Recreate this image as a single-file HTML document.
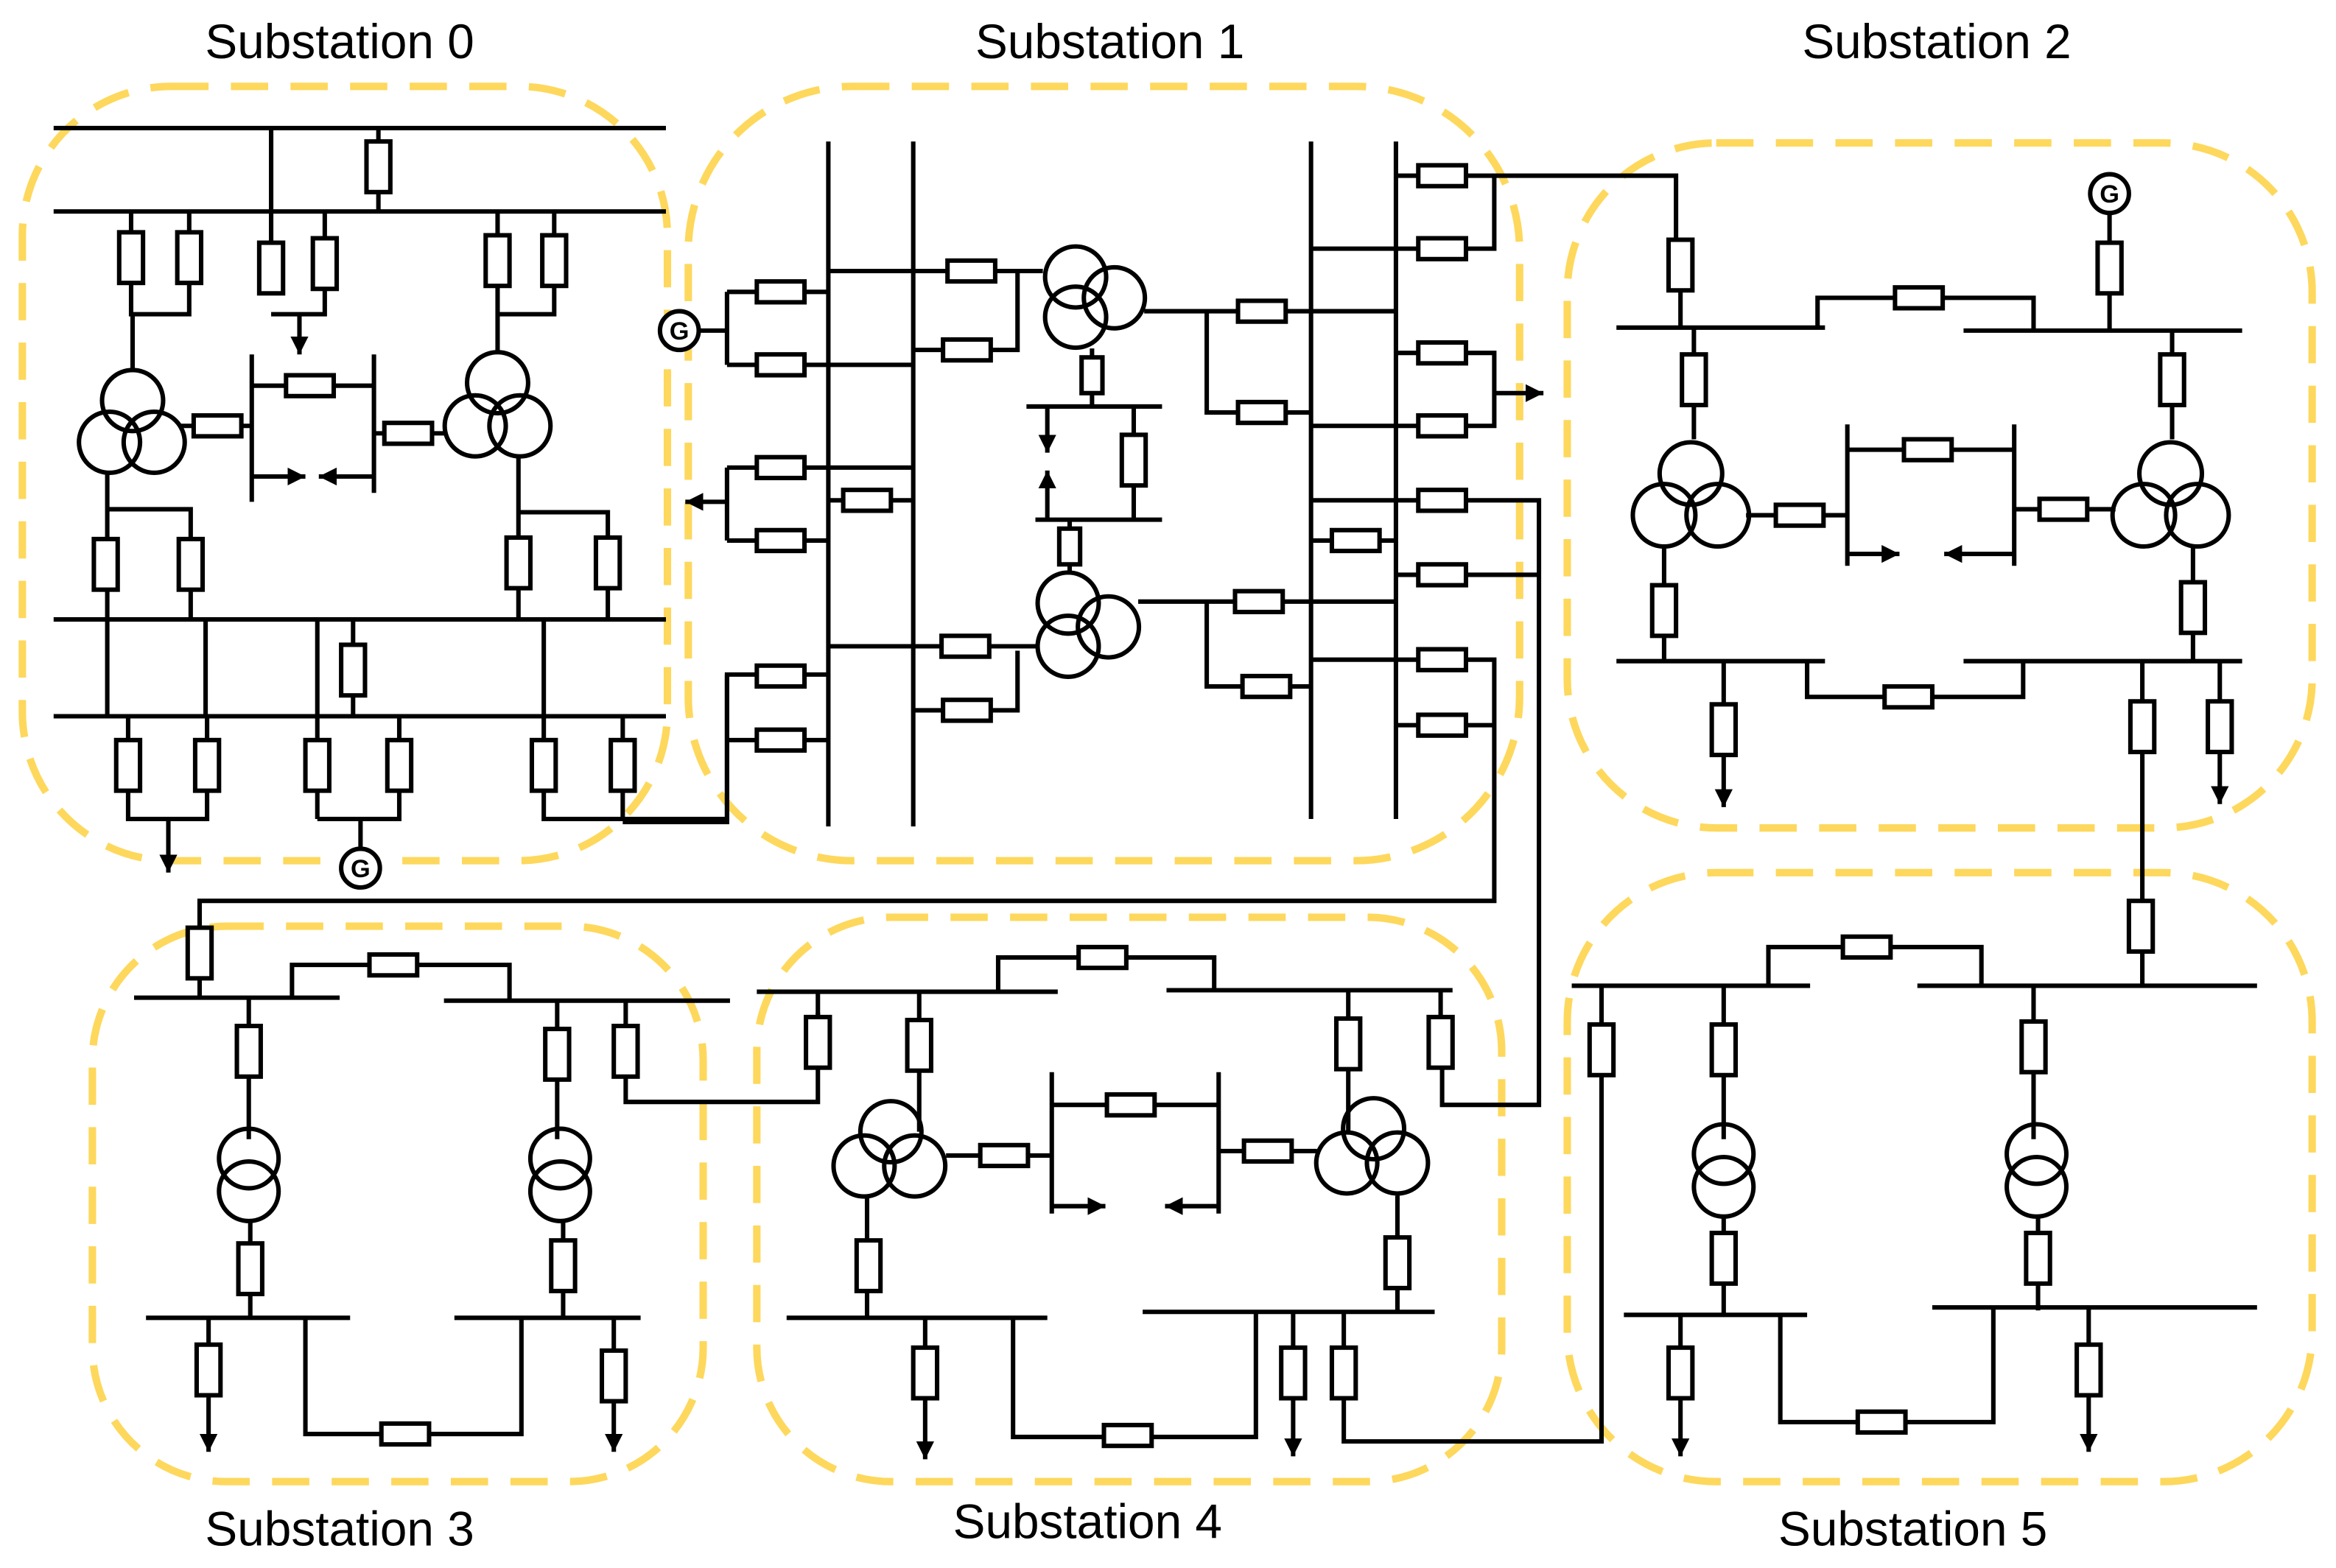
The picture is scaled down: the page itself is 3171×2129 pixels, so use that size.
<!DOCTYPE html>
<html><head><meta charset="utf-8"><style>html,body{margin:0;padding:0;background:#fff}svg{display:block}</style></head><body>
<svg xmlns="http://www.w3.org/2000/svg" xmlns:xlink="http://www.w3.org/1999/xlink" width="3171" height="2129" viewBox="0 0 1568 1053" preserveAspectRatio="none">
<defs>
<rect id="rv" x="-8" y="-17" width="16" height="34" fill="#fff" stroke="#000" stroke-width="3"/>
<rect id="rh" x="-16" y="-7" width="32" height="14" fill="#fff" stroke="#000" stroke-width="3"/>
<rect id="rs" x="-7" y="-12" width="14" height="24" fill="#fff" stroke="#000" stroke-width="3"/>
<marker id="a" viewBox="0 0 10 10" refX="10" refY="5" markerWidth="12" markerHeight="12" markerUnits="userSpaceOnUse" orient="auto"><path d="M0,0L10,5L0,10z" fill="#000"/></marker>
</defs>
<rect width="1568" height="1053" fill="#fff"/>
<g fill="none" stroke="#fdd85d" stroke-width="5" stroke-dasharray="25 15">
<rect x="15" y="58" width="433" height="520" rx="100"/>
<rect x="462" y="58" width="558" height="520" rx="110"/>
<rect x="1052" y="96" width="500" height="460" rx="100"/>
<rect x="62" y="622" width="410" height="373" rx="90"/>
<rect x="508" y="616" width="500" height="379" rx="90"/>
<rect x="1052" y="586" width="500" height="409" rx="100"/>
</g>
<g font-family="Liberation Sans, sans-serif" font-size="32.5" fill="#000" text-anchor="middle">
<text x="228" y="39">Substation 0</text>
<text x="745" y="39">Substation 1</text>
<text x="1300" y="39">Substation 2</text>
<text x="228" y="1038">Substation 3</text>
<text x="730" y="1033">Substation 4</text>
<text x="1284" y="1038">Substation 5</text>
</g>
<g fill="none" stroke="#000" stroke-width="3">
<!-- Substation 0 -->
<path d="M36 86H447M36 142H447M36 416H447M36 481H447"/>
<path d="M182 86V195M254 86V142M88 142V211H127V142M218 142V211H182" />
<path d="M201 211V238" marker-end="url(#a)"/>
<path d="M334 142V211H372V142M334 211V237"/>
<path d="M89 211V248M169 238V337M251 238V331M169 259H251M120 286H169M251 291H300"/>
<path d="M170 320H205" marker-end="url(#a)"/>
<path d="M251 320H214" marker-end="url(#a)"/>
<path d="M72 318V416M72 342H128V416M348 306V416M348 344H408V416"/>
<circle cx="89" cy="269" r="20.5"/><circle cx="73.5" cy="297" r="20.5"/><circle cx="103.5" cy="297" r="20.5"/>
<circle cx="334" cy="257" r="20.5"/><circle cx="319" cy="286" r="20.5"/><circle cx="349" cy="286" r="20.5"/>
<path d="M72 416V481M138 416V481M213 416V550M237 416V481M365 416V481"/>
<path d="M86 481V550H139V481M213 550H268V481M242 550V570M365 481V550H418V481M418 550H488V453H556"/>
<path d="M113 550V586" marker-end="url(#a)"/>
<circle cx="242" cy="583" r="13" fill="#fff"/>
<!-- Substation 1 -->
<path d="M556 95V555M613 95V555M880 95V550M937 95V550"/>
<circle cx="456" cy="222" r="13" fill="#fff"/>
<path d="M469 222H488M488 196V245M488 196H556M488 245H613M556 182H700M613 235H683V182"/>
<circle cx="722" cy="186" r="20.5"/><circle cx="748" cy="200" r="20.5"/><circle cx="722" cy="213" r="20.5"/>
<path d="M768 209H937M810 209V277H880M733 234V273M689 273H780M695 349H780M761 273V349M718 349V385"/>
<path d="M703 273V304" marker-end="url(#a)"/>
<path d="M703 349V316" marker-end="url(#a)"/>
<circle cx="717" cy="405" r="20.5"/><circle cx="744" cy="421" r="20.5"/><circle cx="717" cy="434" r="20.5"/>
<path d="M764 404H937M810 404V461H880M556 434H697M613 477H683V437"/>
<path d="M488 314V363M488 314H613M488 363H556M556 336H613"/>
<path d="M488 337H460" marker-end="url(#a)"/>
<path d="M488 497H556M488 453V552H418"/>
<path d="M880 363H937"/>
<path d="M937 118H1125V160M937 167H1003V118M880 167H937"/>
<path d="M937 237H1003V286H880M1003 264H1036" marker-end="url(#a)"/>
<path d="M880 336H1033V742H968V718M937 386H1033"/>
<path d="M880 443H1003V605H134V622M937 487H1003"/>
<!-- Substation 2 -->
<path d="M1085 220H1225M1318 222H1505M1220 220V200H1365V222M1128 160V220M1416 143V222"/>
<circle cx="1416" cy="130" r="13" fill="#fff"/>
<path d="M1137 220V295M1458 222V295M1240 285V380M1352 285V380M1240 302H1352M1172 346H1240M1352 342H1420"/>
<path d="M1240 372H1275" marker-end="url(#a)"/>
<path d="M1352 372H1305" marker-end="url(#a)"/>
<circle cx="1135" cy="318" r="21"/><circle cx="1117" cy="346" r="21"/><circle cx="1153" cy="346" r="21"/>
<circle cx="1457" cy="318" r="21"/><circle cx="1439" cy="346" r="21"/><circle cx="1475" cy="346" r="21"/>
<path d="M1117 366V444M1472 366V444M1085 444H1225M1318 444H1505M1213 444V468H1358V444"/>
<path d="M1157 444V542" marker-end="url(#a)"/>
<path d="M1490 444V540" marker-end="url(#a)"/>
<path d="M1438 444V662"/>
<!-- Substation 3 -->
<path d="M134 605V670M90 670H228M298 672H490M196 670V648H342V672"/>
<path d="M167 670V765M374 672V765M420 672V740H549V680"/>
<circle cx="167" cy="778" r="20"/><circle cx="167" cy="800" r="20"/>
<circle cx="376" cy="778" r="20"/><circle cx="376" cy="800" r="20"/>
<path d="M168 820V885M378 820V885M98 885H235M305 885H430M205 885V963H350V885"/>
<path d="M140 885V975" marker-end="url(#a)"/>
<path d="M412 885V975" marker-end="url(#a)"/>
<!-- Substation 4 -->
<path d="M508 666H710M783 665H975M670 666V643H815V665M549 666V700M617 666V760M905 665V760M967 665V700"/>
<circle cx="598" cy="760" r="20.5"/><circle cx="580" cy="783" r="20.5"/><circle cx="614" cy="783" r="20.5"/>
<circle cx="922" cy="758" r="20.5"/><circle cx="904" cy="781" r="20.5"/><circle cx="938" cy="781" r="20.5"/>
<path d="M635 776H706M706 720V815M818 720V815M706 742H818M818 773H884"/>
<path d="M706 810H742" marker-end="url(#a)"/>
<path d="M818 810H782" marker-end="url(#a)"/>
<path d="M582 803V885M938 803V882M528 885H703M767 881H963M680 885V965H843V880"/>
<path d="M621 885V980" marker-end="url(#a)"/>
<path d="M868 881V978" marker-end="url(#a)"/>
<path d="M902 881V968H1075V662"/>
<!-- Substation 5 -->
<path d="M1055 662H1215M1287 662H1515M1187 662V636H1330V662M1157 662V765M1365 662V765"/>
<circle cx="1157" cy="775" r="20"/><circle cx="1157" cy="797" r="20"/>
<circle cx="1367" cy="775" r="20"/><circle cx="1367" cy="797" r="20"/>
<path d="M1157 817V883M1368 817V880M1090 883H1213M1297 878H1515M1195 883V955H1338V878"/>
<path d="M1128 883V978" marker-end="url(#a)"/>
<path d="M1402 879V975" marker-end="url(#a)"/>
</g>
<g font-family="Liberation Sans, sans-serif" font-size="17" font-weight="bold" text-anchor="middle">
<text x="242" y="589">G</text><text x="456" y="228">G</text><text x="1416" y="136">G</text>
</g>
<g>
<use href="#rv" x="254" y="112"/>
<use href="#rv" x="88" y="173"/><use href="#rv" x="127" y="173"/><use href="#rv" x="182" y="180"/><use href="#rv" x="218" y="177"/>
<use href="#rv" x="334" y="175"/><use href="#rv" x="372" y="175"/>
<use href="#rh" x="208" y="259"/><use href="#rh" x="146" y="286"/><use href="#rh" x="274" y="291"/>
<use href="#rv" x="71" y="379"/><use href="#rv" x="128" y="379"/><use href="#rv" x="348" y="378"/><use href="#rv" x="408" y="378"/>
<use href="#rv" x="237" y="450"/>
<use href="#rv" x="86" y="514"/><use href="#rv" x="139" y="514"/><use href="#rv" x="213" y="514"/><use href="#rv" x="268" y="514"/>
<use href="#rv" x="365" y="514"/><use href="#rv" x="418" y="514"/>
<use href="#rh" x="524" y="196"/><use href="#rh" x="524" y="245"/><use href="#rh" x="652" y="182"/><use href="#rh" x="649" y="235"/>
<use href="#rh" x="524" y="314"/><use href="#rh" x="524" y="363"/><use href="#rh" x="582" y="336"/>
<use href="#rh" x="524" y="454"/><use href="#rh" x="524" y="497"/><use href="#rh" x="648" y="434"/><use href="#rh" x="649" y="477"/>
<use href="#rs" x="733" y="252"/><use href="#rv" x="761" y="309"/><use href="#rs" x="718" y="367"/>
<use href="#rh" x="847" y="209"/><use href="#rh" x="847" y="277"/><use href="#rh" x="845" y="404"/><use href="#rh" x="850" y="461"/>
<use href="#rh" x="910" y="363"/>
<use href="#rh" x="968" y="118"/><use href="#rh" x="968" y="167"/><use href="#rh" x="968" y="237"/><use href="#rh" x="968" y="286"/>
<use href="#rh" x="968" y="336"/><use href="#rh" x="968" y="386"/><use href="#rh" x="968" y="443"/><use href="#rh" x="968" y="487"/>
<use href="#rv" x="1128" y="178"/><use href="#rv" x="1416" y="180"/><use href="#rh" x="1288" y="200"/>
<use href="#rv" x="1137" y="255"/><use href="#rv" x="1458" y="255"/>
<use href="#rh" x="1208" y="346"/><use href="#rh" x="1294" y="302"/><use href="#rh" x="1385" y="342"/>
<use href="#rv" x="1117" y="410"/><use href="#rv" x="1472" y="408"/><use href="#rh" x="1281" y="468"/>
<use href="#rv" x="1157" y="490"/><use href="#rv" x="1438" y="488"/><use href="#rv" x="1490" y="488"/>
<use href="#rv" x="134" y="640"/><use href="#rh" x="264" y="648"/>
<use href="#rv" x="167" y="706"/><use href="#rv" x="374" y="708"/><use href="#rv" x="420" y="706"/>
<use href="#rv" x="168" y="852"/><use href="#rv" x="378" y="850"/><use href="#rh" x="272" y="963"/>
<use href="#rv" x="140" y="920"/><use href="#rv" x="412" y="924"/>
<use href="#rh" x="740" y="643"/>
<use href="#rv" x="549" y="700"/><use href="#rv" x="617" y="702"/><use href="#rv" x="905" y="701"/><use href="#rv" x="967" y="700"/>
<use href="#rh" x="674" y="776"/><use href="#rh" x="759" y="742"/><use href="#rh" x="851" y="773"/>
<use href="#rv" x="583" y="850"/><use href="#rv" x="938" y="848"/><use href="#rh" x="757" y="964"/>
<use href="#rv" x="621" y="922"/><use href="#rv" x="868" y="922"/><use href="#rv" x="902" y="922"/>
<use href="#rv" x="1437" y="622"/><use href="#rh" x="1253" y="636"/>
<use href="#rv" x="1075" y="705"/><use href="#rv" x="1157" y="705"/><use href="#rv" x="1365" y="703"/>
<use href="#rv" x="1157" y="845"/><use href="#rv" x="1368" y="845"/><use href="#rh" x="1263" y="955"/>
<use href="#rv" x="1128" y="922"/><use href="#rv" x="1402" y="920"/>
</g>
</svg>
</body></html>
